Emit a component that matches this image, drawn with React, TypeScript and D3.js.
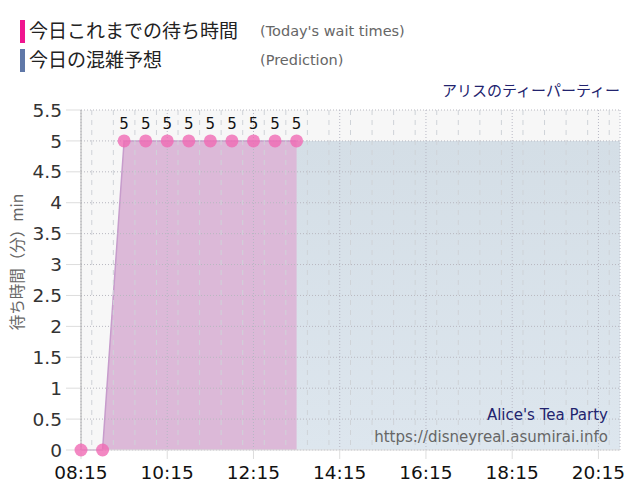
import React, { useEffect, useRef } from "react";
import * as d3 from "d3";

// today's observed wait times (every 30 min)
const waitTimes = ["08:15", "08:45", "09:15", "09:45", "10:15", "10:45", "11:15", "11:45", "12:15", "12:45", "13:15"];
const waitValues = [0, 0, 5, 5, 5, 5, 5, 5, 5, 5, 5];

// prediction for the rest of the day
const predTimes = [
  "08:45", "09:15", "09:45", "10:15", "10:45", "11:15", "11:45", "12:15", "12:45",
  "13:15", "13:45", "14:15", "14:45", "15:15", "15:45", "16:15", "16:45", "17:15",
  "17:45", "18:15", "18:45", "19:15", "19:45", "20:15", "20:45",
];
const predValues = [0, 5, 5, 5, 5, 5, 5, 5, 5, 5, 5, 5, 5, 5, 5, 5, 5, 5, 5, 5, 5, 5, 5, 5, 5];

const xTickLabels = ["08:15", "10:15", "12:15", "14:15", "16:15", "18:15", "20:15"];
const yTickValues = [0, 0.5, 1, 1.5, 2, 2.5, 3, 3.5, 4, 4.5, 5, 5.5];

const FONT = "'DejaVu Sans', Verdana, 'Noto Sans CJK JP', sans-serif";
const JP = "'Noto Sans CJK JP', 'DejaVu Sans', sans-serif";

const WaitChart: React.FC = () => {
  const svgRef = useRef<SVGSVGElement | null>(null);

  useEffect(() => {
    if (!svgRef.current) return;
    const parse = d3.timeParse("%H:%M");
    const svg = d3.select(svgRef.current);
    svg.selectAll("*").remove();

    const left = 81, right = 620, top = 110, bottom = 450;
    const x = d3.scaleTime().domain([parse("08:15")!, parse("20:45")!]).range([left, right]);
    const y = d3.scaleLinear().domain([0, 5.5]).range([bottom, top]);

    const wait = waitTimes.map((t, i) => ({ t: parse(t)!, v: waitValues[i] }));
    const pred = predTimes.map((t, i) => ({ t: parse(t)!, v: predValues[i] }));

    const defs = svg.append("defs");
    const grad = defs.append("linearGradient").attr("id", "predGrad").attr("x1", 0).attr("y1", 0).attr("x2", 0).attr("y2", 1);
    grad.append("stop").attr("offset", "0%").attr("stop-color", "#d4dee6");
    grad.append("stop").attr("offset", "100%").attr("stop-color", "#dde6ee");

    // plot background
    svg.append("rect")
      .attr("x", left).attr("y", top)
      .attr("width", right - left).attr("height", bottom - top)
      .attr("fill", "#f7f7f7");

    // legend
    const legend = [
      { c: "#f0158f", jp: "今日これまでの待ち時間", en: "(Today's wait times)", y: 20 },
      { c: "#6078a8", jp: "今日の混雑予想", en: "(Prediction)", y: 49 },
    ];
    legend.forEach((l) => {
      svg.append("rect").attr("x", 20).attr("y", l.y).attr("width", 5).attr("height", 23).attr("fill", l.c);
      svg.append("text").attr("x", 29).attr("y", l.y + 18).attr("font-family", JP).attr("font-size", 19).attr("fill", "#222").text(l.jp);
      svg.append("text").attr("x", 260).attr("y", l.y + 16).attr("font-family", FONT).attr("font-size", 14.5).attr("fill", "#666").text(l.en);
    });

    svg.append("text")
      .attr("x", 620).attr("y", 96)
      .attr("text-anchor", "end")
      .attr("font-family", JP).attr("font-size", 15)
      .attr("fill", "#22236e")
      .text("アリスのティーパーティー");

    // prediction area
    const area = d3.area<{ t: Date; v: number }>()
      .x((d) => x(d.t)).y0(y(0)).y1((d) => y(d.v));
    svg.append("path").datum(pred).attr("d", area).attr("fill", "url(#predGrad)");

    // wait times area + line
    svg.append("path").datum(wait).attr("d", area).attr("fill", "#dcb9d8");
    const line = d3.line<{ t: Date; v: number }>().x((d) => x(d.t)).y((d) => y(d.v));
    svg.append("path").datum(wait).attr("d", line)
      .attr("fill", "none").attr("stroke", "#c79ccc").attr("stroke-width", 1.5);

    // horizontal grid
    svg.selectAll(".hgrid").data(yTickValues).join("line")
      .attr("x1", left).attr("x2", right)
      .attr("y1", (d) => y(d)).attr("y2", (d) => y(d))
      .attr("stroke", "#b8b8c0").attr("stroke-width", 1).attr("stroke-dasharray", "1,2");
    svg.selectAll(".ytick").data(yTickValues).join("line")
      .attr("x1", 66).attr("x2", left)
      .attr("y1", (d) => y(d)).attr("y2", (d) => y(d))
      .attr("stroke", "#dddddd");

    // vertical grid: minor every 30 min, major at labels
    const majors = xTickLabels.map((t) => parse(t)!);
    const minors = d3.timeMinute.every(30)!.range(x.domain()[0], x.domain()[1])
      .filter((d) => !majors.some((m) => +m === +d));
    svg.selectAll(".vminor").data(minors).join("line")
      .attr("x1", (d) => x(d)).attr("x2", (d) => x(d))
      .attr("y1", top).attr("y2", bottom)
      .attr("stroke", "#cfd3d8").attr("stroke-dasharray", "5,5");
    svg.selectAll(".vmajor").data(majors).join("line")
      .attr("x1", (d) => x(d)).attr("x2", (d) => x(d))
      .attr("y1", top).attr("y2", bottom)
      .attr("stroke", "#b8b8c4").attr("stroke-dasharray", "1,2");
    svg.selectAll(".xtick").data(majors).join("line")
      .attr("x1", (d) => x(d)).attr("x2", (d) => x(d))
      .attr("y1", bottom).attr("y2", bottom + 9)
      .attr("stroke", "#dddddd");

    // frame
    svg.append("line").attr("x1", right).attr("x2", right).attr("y1", top).attr("y2", bottom)
      .attr("stroke", "#b8b8c4").attr("stroke-dasharray", "1,2");
    svg.append("line").attr("x1", left).attr("x2", left).attr("y1", top).attr("y2", bottom)
      .attr("stroke", "#b0b0b0");
    svg.append("line").attr("x1", left).attr("x2", right).attr("y1", bottom).attr("y2", bottom)
      .attr("stroke", "#dddddd");

    // axis labels
    svg.selectAll(".ylab").data(yTickValues).join("text")
      .attr("x", 62).attr("y", (d) => y(d)).attr("dy", "0.36em")
      .attr("text-anchor", "end")
      .attr("font-family", FONT).attr("font-size", 18.5).attr("fill", "#333")
      .text((d) => String(d));
    svg.selectAll(".xlab").data(majors).join("text")
      .attr("x", (d) => x(d)).attr("y", 479)
      .attr("text-anchor", "middle")
      .attr("font-family", FONT).attr("font-size", 18.5).attr("fill", "#111")
      .text((d, i) => xTickLabels[i]);

    svg.append("text")
      .attr("transform", "translate(23,262) rotate(-90)")
      .attr("text-anchor", "middle")
      .attr("font-family", JP).attr("font-size", 15.5).attr("fill", "#666")
      .text("待ち時間（分）min");

    // watermark
    svg.append("text").attr("x", 608).attr("y", 420).attr("text-anchor", "end")
      .attr("font-family", FONT).attr("font-size", 15).attr("fill", "#22236e").text("Alice's Tea Party");
    svg.append("text").attr("x", 608).attr("y", 442).attr("text-anchor", "end")
      .attr("font-family", FONT).attr("font-size", 15).attr("fill", "#666").text("https://disneyreal.asumirai.info");

    // points + value labels
    svg.selectAll(".pt").data(wait).join("circle")
      .attr("cx", (d) => x(d.t)).attr("cy", (d) => y(d.v)).attr("r", 6.5)
      .attr("fill", "#f06ab4").attr("opacity", 0.8);
    svg.selectAll(".vl").data(wait.filter((d) => d.v > 0)).join("text")
      .attr("x", (d) => x(d.t)).attr("y", (d) => y(d.v) - 12)
      .attr("text-anchor", "middle")
      .attr("font-family", FONT).attr("font-size", 15).attr("fill", "#111")
      .text((d) => String(d.v));
  }, []);

  return <svg ref={svgRef} width={640} height={500} style={{ position: "absolute", left: 0, top: 0 }} />;
};

export default function App() {
  return <WaitChart />;
}
